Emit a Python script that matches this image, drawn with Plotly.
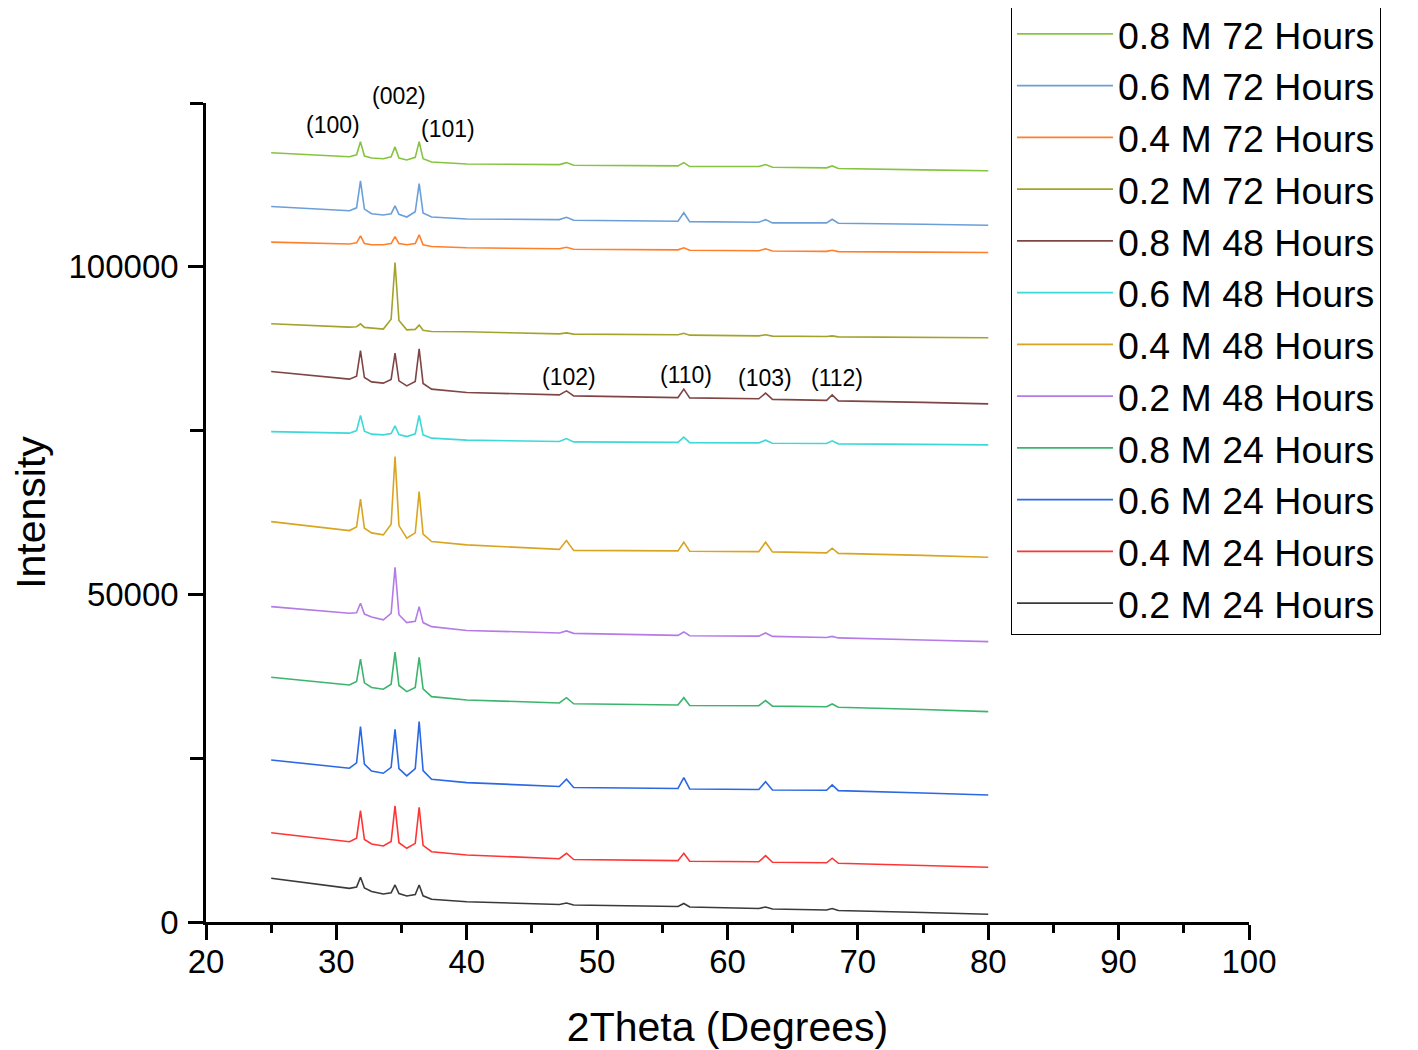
import plotly.graph_objects as go

two_theta = [25, 28, 31.0, 31.55, 31.85, 32.15, 32.7, 33.6, 34.2, 34.5, 34.8, 35.4,
             36.05, 36.35, 36.65, 37.3, 40, 47.1, 47.65, 48.2, 56.2, 56.65, 57.1,
             62.4, 62.92, 63.45, 67.6, 68.03, 68.5, 75, 80]

# Intensities in thousands of counts
i_08M_72h = [117.4, 117.1, 116.8, 117.1, 119.1, 116.9, 116.6, 116.5, 116.8, 118.3, 116.6, 116.3,
             116.7, 119.1, 116.5, 116.0, 115.7, 115.6, 115.9, 115.5, 115.4, 115.9, 115.3,
             115.3, 115.6, 115.2, 115.1, 115.4, 115.0, 114.8, 114.65]
i_06M_72h = [109.2, 108.85, 108.55, 109.0, 113.1, 108.8, 108.1, 107.9, 108.1, 109.3, 108.0, 107.6,
             108.4, 112.7, 108.2, 107.6, 107.3, 107.2, 107.55, 107.1, 106.95, 108.25, 106.9,
             106.8, 107.2, 106.7, 106.7, 107.25, 106.65, 106.5, 106.35]
i_04M_72h = [103.77, 103.62, 103.47, 103.65, 104.73, 103.55, 103.36, 103.36, 103.55, 104.62, 103.55, 103.36,
             103.55, 104.88, 103.35, 103.10, 102.90, 102.75, 102.98, 102.67, 102.59, 102.90, 102.52,
             102.44, 102.75, 102.41, 102.36, 102.52, 102.32, 102.24, 102.18]
i_02M_72h = [91.30, 91.04, 90.79, 90.85, 91.30, 90.75, 90.61, 90.49, 92.0, 100.65, 91.8, 90.38,
             90.45, 91.10, 90.3, 90.12, 90.08, 89.77, 89.92, 89.72, 89.62, 89.85, 89.57,
             89.46, 89.62, 89.42, 89.36, 89.46, 89.31, 89.24, 89.16]
i_08M_48h = [84.01, 83.43, 82.85, 83.3, 87.22, 83.1, 82.44, 82.24, 82.8, 86.82, 82.6, 81.83,
             82.5, 87.48, 82.2, 81.33, 80.81, 80.46, 81.07, 80.30, 80.04, 81.33, 80.00,
             79.85, 80.72, 79.77, 79.62, 80.46, 79.54, 79.31, 79.08]
i_06M_48h = [74.85, 74.73, 74.61, 75.0, 77.30, 74.9, 74.46, 74.35, 74.55, 75.72, 74.4, 74.09,
             74.5, 77.30, 74.35, 73.85, 73.54, 73.33, 73.79, 73.28, 73.20, 74.00, 73.17,
             73.13, 73.54, 73.08, 73.02, 73.43, 72.98, 72.90, 72.82]
i_04M_48h = [61.11, 60.46, 59.74, 60.3, 64.53, 60.1, 59.39, 59.08, 60.7, 71.04, 60.5, 58.58,
             59.4, 65.69, 59.2, 58.06, 57.56, 56.87, 58.21, 56.72, 56.64, 57.97, 56.59,
             56.53, 57.97, 56.49, 56.34, 57.05, 56.26, 55.95, 55.68]
i_02M_48h = [48.14, 47.63, 47.13, 47.2, 48.66, 47.0, 46.56, 46.11, 47.1, 54.15, 46.9, 45.69,
             45.9, 48.14, 45.7, 45.08, 44.50, 44.12, 44.43, 44.05, 43.74, 44.27, 43.69,
             43.63, 44.12, 43.59, 43.43, 43.59, 43.36, 43.05, 42.79]
i_08M_24h = [37.36, 36.79, 36.18, 36.7, 40.11, 36.5, 35.80, 35.53, 36.3, 41.18, 36.1, 35.16,
             35.8, 40.41, 35.6, 34.40, 33.89, 33.43, 34.24, 33.31, 33.13, 34.24, 33.05,
             33.01, 33.79, 32.95, 32.85, 33.28, 32.78, 32.44, 32.11]
i_06M_24h = [24.73, 24.12, 23.47, 24.3, 29.82, 24.1, 23.05, 22.70, 23.6, 29.42, 23.4, 22.29,
             23.4, 30.58, 23.1, 21.79, 21.27, 20.69, 21.79, 20.53, 20.38, 22.03, 20.31,
             20.23, 21.42, 20.15, 20.11, 20.92, 20.05, 19.69, 19.39]
i_04M_24h = [13.63, 12.98, 12.26, 12.8, 16.99, 12.6, 11.91, 11.60, 12.3, 17.71, 12.1, 11.25,
             12.0, 17.51, 11.7, 10.73, 10.23, 9.66, 10.49, 9.54, 9.36, 10.49, 9.28,
             9.19, 10.12, 9.11, 9.04, 9.73, 8.96, 8.63, 8.35]
i_02M_24h = [6.67, 5.95, 5.14, 5.35, 6.82, 5.2, 4.66, 4.27, 4.45, 5.65, 4.35, 3.97,
             4.2, 5.65, 4.0, 3.47, 3.10, 2.67, 2.90, 2.60, 2.37, 2.82, 2.29,
             2.06, 2.29, 1.98, 1.83, 2.06, 1.76, 1.45, 1.18]

series_names = ["0.8 M 72 Hours", "0.6 M 72 Hours", "0.4 M 72 Hours", "0.2 M 72 Hours",
                "0.8 M 48 Hours", "0.6 M 48 Hours", "0.4 M 48 Hours", "0.2 M 48 Hours",
                "0.8 M 24 Hours", "0.6 M 24 Hours", "0.4 M 24 Hours", "0.2 M 24 Hours"]
series_values = [i_08M_72h, i_06M_72h, i_04M_72h, i_02M_72h,
                 i_08M_48h, i_06M_48h, i_04M_48h, i_02M_48h,
                 i_08M_24h, i_06M_24h, i_04M_24h, i_02M_24h]
series_colors = ["#86C43F", "#6C9FD8", "#FF7F2A", "#A3A32C",
                 "#7F4545", "#3ED8D8", "#D9A521", "#B47BE6",
                 "#3CB46E", "#2A68E4", "#FF3535", "#3A3A3A"]

# Miller index labels
hkl_labels = ["(100)", "(002)", "(101)", "(102)", "(110)", "(103)", "(112)"]
hkl_x = [29.74, 34.80, 38.56, 47.84, 56.81, 62.87, 68.39]          # degrees
hkl_y = [0.9731, 1.0085, 0.9683, 0.6654, 0.6679, 0.6642, 0.6642]   # fraction of plot height

x_ticks = [20, 30, 40, 50, 60, 70, 80, 90, 100]
y_ticks = [0, 50000, 100000]

FONT = "Liberation Sans, Arial, sans-serif"

fig = go.Figure()
for name, vals, col in zip(series_names, series_values, series_colors):
    fig.add_trace(go.Scatter(
        x=two_theta, y=[v * 1000 for v in vals], mode="lines", name=name,
        line=dict(color=col, width=1.6)))

for lab, ax_, ay_ in zip(hkl_labels, hkl_x, hkl_y):
    fig.add_annotation(x=ax_, y=ay_, text=lab, showarrow=False,
                       xanchor="center", yanchor="middle",
                       font=dict(family=FONT, size=23, color="black"),
                       xref="x", yref="paper")

axis_common = dict(showline=True, linecolor="black", linewidth=2.5, ticks="outside",
                   tickcolor="black", tickwidth=2.5, ticklen=15, showgrid=False,
                   zeroline=False, mirror=False, automargin=False,
                   tickfont=dict(family=FONT, size=33, color="black"))

fig.update_xaxes(range=[20, 100], tickvals=x_ticks, ticklabelstandoff=-6,
                 title=dict(text="2Theta (Degrees)", font=dict(family=FONT, size=41, color="black"),
                            standoff=34),
                 minor=dict(dtick=5, tick0=0, ticks="outside", ticklen=8, tickwidth=2.5,
                            tickcolor="black"),
                 **axis_common)
fig.update_yaxes(range=[0, 125000], tickvals=y_ticks, tickformat="d", ticklabelstandoff=3,
                 title=dict(text="Intensity", font=dict(family=FONT, size=41, color="black"),
                            standoff=60),
                 minor=dict(tickvals=[25000, 75000, 125000], ticks="outside", ticklen=13,
                            tickwidth=2.5, tickcolor="black"),
                 **axis_common)

fig.update_layout(
    width=1410, height=1042,
    margin=dict(l=198, r=169, t=95, b=128, autoexpand=False),
    paper_bgcolor="white", plot_bgcolor="white",
    font=dict(family=FONT, color="black"),
    legend=dict(x=0.7718, y=1.1233, xanchor="left", yanchor="top",
                bgcolor="white", bordercolor="black", borderwidth=1,
                font=dict(family=FONT, size=37.5, color="black"),
                itemwidth=96, tracegroupgap=0, maxheight=700),
    showlegend=True,
)

fig.write_html("out.html")
